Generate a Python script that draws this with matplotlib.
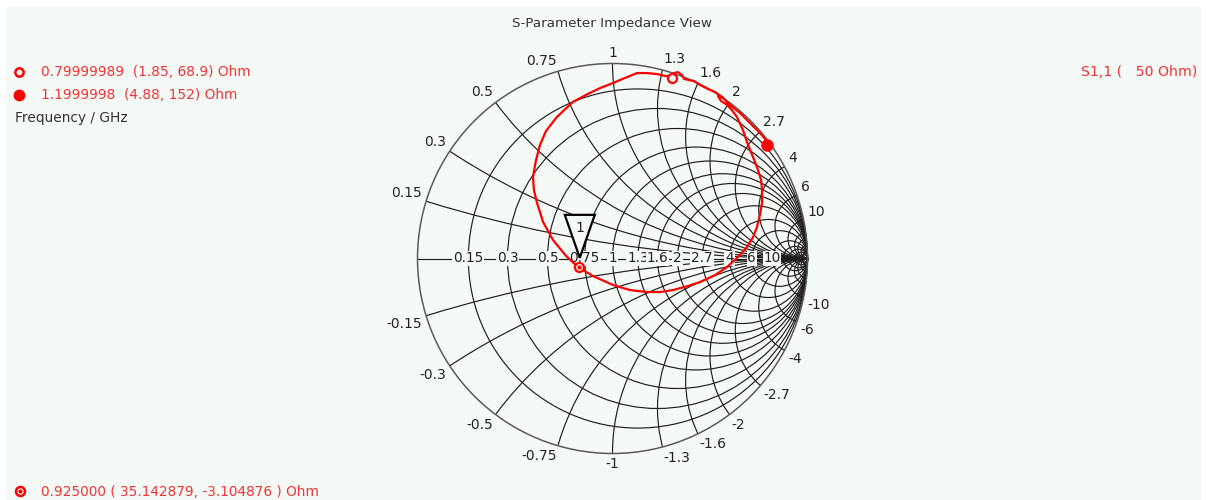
import numpy as np
import matplotlib
matplotlib.use("Agg")
import matplotlib.pyplot as plt
from matplotlib.patches import Circle, Rectangle, Polygon
from matplotlib.lines import Line2D
from matplotlib.transforms import ScaledTranslation

# ---------------- data ----------------
title = "S-Parameter Impedance View"
z0 = 50.0
resistance_grid = [0.15, 0.3, 0.5, 0.75, 1, 1.3, 1.6, 2, 2.7, 4, 6, 10, 15, 20, 30, 50]
reactance_grid = [0.15, 0.3, 0.5, 0.75, 1, 1.3, 1.6, 2, 2.7, 4, 6, 10, 15, 20, 30, 50]
labelled_values = [0.15, 0.3, 0.5, 0.75, 1, 1.3, 1.6, 2, 2.7, 4, 6, 10]
labelled_text = ["0.15", "0.3", "0.5", "0.75", "1", "1.3", "1.6", "2", "2.7", "4", "6", "10"]

# S11 trace, reflection coefficient
s11_re = [0.562, 0.526, 0.490, 0.449, 0.418, 0.392, 0.367, 0.356, 0.336, 0.315, 0.300,
          0.269, 0.228, 0.177, 0.126, 0.064, 0.003, -0.064, -0.126, -0.203, -0.285,
          -0.341, -0.372, -0.392, -0.408, -0.403, -0.387, -0.356, -0.305, -0.238,
          -0.177, -0.100, 0.003, 0.090, 0.177, 0.244, 0.310, 0.387, 0.449, 0.526,
          0.587, 0.644, 0.690, 0.721, 0.741, 0.756, 0.767, 0.767, 0.762, 0.746,
          0.731, 0.710, 0.690, 0.669, 0.638, 0.608, 0.582, 0.556, 0.541, 0.567,
          0.603, 0.654, 0.705, 0.756, 0.787, 0.797]
s11_im = [0.828, 0.854, 0.869, 0.890, 0.910, 0.915, 0.921, 0.941, 0.956, 0.951, 0.936,
          0.936, 0.946, 0.951, 0.951, 0.926, 0.900, 0.874, 0.844, 0.803, 0.726,
          0.654, 0.582, 0.505, 0.418, 0.351, 0.285, 0.187, 0.095, 0.013,
          -0.044, -0.090, -0.136, -0.162, -0.172, -0.172, -0.162, -0.141, -0.121, -0.085,
          -0.044, 0.008, 0.059, 0.110, 0.162, 0.223, 0.285, 0.351, 0.403, 0.454,
          0.495, 0.546, 0.597, 0.659, 0.726, 0.767, 0.792, 0.808, 0.833, 0.823,
          0.787, 0.746, 0.695, 0.644, 0.608, 0.592]

# markers: frequency (GHz), R (Ohm), X (Ohm)
marker_freq = [0.79999989, 1.1999998]
marker_freq_text = ["0.79999989", "1.1999998"]
marker_r = [1.85, 4.88]
marker_x = [68.9, 152]
marker_r_text = ["1.85", "4.88"]
marker_x_text = ["68.9", "152"]
cursor_freq = 0.925
cursor_r = 35.142879
cursor_x = -3.104876
cursor_label = "1"

# ---------------- style ----------------
W, H = 1206, 500
panel = "#f5faf7"
red = "#ff0000"
tred = "#f03434"
grid_c = "#1e1e1e"

fig = plt.figure(figsize=(W / 100, H / 100), dpi=100, facecolor="white")
fig.patches.append(Rectangle((5 / W, 0), 1196 / W, 493 / H, transform=fig.transFigure,
                             facecolor=panel, edgecolor="none", zorder=-10))

cx, cy, R = 612.5, 258.5, 195.0
lim = 1.2
ax = fig.add_axes([(cx - lim * R) / W, 1 - (cy + lim * R) / H, 2 * lim * R / W, 2 * lim * R / H])
ax.set_zorder(1)
ax.set_xlim(-lim, lim)
ax.set_ylim(-lim, lim)
ax.axis("off")
ax.patch.set_alpha(0)

unit = Circle((0, 0), 1, transform=ax.transData, facecolor="none", edgecolor="none")
ax.add_patch(unit)

# resistance circles
for r in resistance_grid:
    c = Circle((r / (1 + r), 0), 1 / (1 + r), fill=False, edgecolor=grid_c, lw=0.85, zorder=1)
    ax.add_patch(c)
# reactance arcs
for x in reactance_grid:
    for s in (1, -1):
        c = Circle((1, s / x), 1 / x, fill=False, edgecolor=grid_c, lw=0.85, zorder=1)
        ax.add_patch(c)
        c.set_clip_path(unit)
# outer circle and real axis
ax.add_patch(Circle((0, 0), 1, fill=False, edgecolor="#5a5a5a", lw=1.1, zorder=1.5))
ax.plot([-1, 1], [0, 0], color=grid_c, lw=0.85, zorder=1)

# real axis labels
for v, t in zip(labelled_values, labelled_text):
    gx = (v - 1) / (v + 1)
    ax.text(gx, 0, t, ha="center", va="center", fontsize=9.8, color="#222222", zorder=3,
            bbox=dict(facecolor=panel, edgecolor="none", pad=0.6))

# rim labels
for v, t in zip(labelled_values, labelled_text):
    for s in (1, -1):
        g = (1j * s * v - 1) / (1j * s * v + 1)
        ang = np.angle(g)
        px, py = 1.02 * np.cos(ang), 1.02 * np.sin(ang)
        ha = "right" if np.cos(ang) < -0.2 else ("left" if np.cos(ang) > 0.2 else "center")
        va = "bottom" if s > 0 else "top"
        lab = t if s > 0 else "-" + t
        ax.text(px, py, lab, ha=ha, va=va, fontsize=10, color="#222222", zorder=3)

# trace
ax.plot(s11_re, s11_im, color=red, lw=1.6, zorder=4, solid_joinstyle="round")

def gamma(rr, xx):
    z = complex(rr, xx) / z0
    return (z - 1) / (z + 1)

g1 = gamma(marker_r[0], marker_x[0])
g2 = gamma(marker_r[1], marker_x[1])
gc = gamma(cursor_r, cursor_x)
ax.plot([g1.real], [g1.imag], "o", ms=6.5, mfc=panel, mec=red, mew=1.6, zorder=5)
ax.plot([g2.real], [g2.imag], "o", ms=8, mfc=red, mec=red, zorder=5)
ax.plot([gc.real], [gc.imag], "o", ms=6.5, mfc=panel, mec=red, mew=1.6, zorder=5)
ax.plot([gc.real], [gc.imag], "o", ms=2, mfc=red, mec=red, zorder=6)

# cursor triangle
tr = fig.dpi_scale_trans + ScaledTranslation(gc.real, gc.imag, ax.transData)
tri = Polygon([(0.01, 0.09), (-0.14, 0.52), (0.16, 0.52)], closed=True, transform=tr,
              facecolor=panel, edgecolor="black", lw=1.6, zorder=5, joinstyle="miter")
ax.add_patch(tri)
ax.text(0.01, 0.385, cursor_label, transform=tr, ha="center", va="center",
        fontsize=10, color="#222222", zorder=6)

# ---------------- texts outside ----------------
def fx(px):
    return px / W

def fy(py):
    return 1 - py / H

fig.text(fx(612), fy(24), title, ha="center", va="center", fontsize=9.7, color="#333333")
fig.text(fx(41), fy(72), f"{marker_freq_text[0]}  ({marker_r_text[0]}, {marker_x_text[0]}) Ohm",
         ha="left", va="center", fontsize=9.9, color=tred)
fig.text(fx(41), fy(95), f"{marker_freq_text[1]}  ({marker_r_text[1]}, {marker_x_text[1]}) Ohm",
         ha="left", va="center", fontsize=9.9, color=tred)
fig.text(fx(15), fy(118), "Frequency / GHz", ha="left", va="center", fontsize=9.9, color="#333333")
fig.text(fx(1197), fy(72), f"S1,1 (   {int(z0)} Ohm)", ha="right", va="center",
         fontsize=10.2, color=tred)
fig.text(fx(41), fy(492), f"{cursor_freq:.6f} ( {cursor_r:.6f}, {cursor_x:.6f} ) Ohm",
         ha="left", va="center", fontsize=9.8, color=tred)

fig.add_artist(Line2D([fx(19)], [fy(72)], marker="o", ms=6, mfc=panel, mec=red, mew=1.8,
                      transform=fig.transFigure))
fig.add_artist(Line2D([fx(19)], [fy(95)], marker="o", ms=7.5, mfc=red, mec=red,
                      transform=fig.transFigure))
fig.add_artist(Line2D([fx(20)], [fy(491)], marker="o", ms=6.5, mfc=panel, mec=red, mew=1.8,
                      transform=fig.transFigure))
fig.add_artist(Line2D([fx(20)], [fy(491)], marker="o", ms=2, mfc=red, mec=red,
                      transform=fig.transFigure))

fig.savefig("out.png", dpi=100, facecolor="white")
